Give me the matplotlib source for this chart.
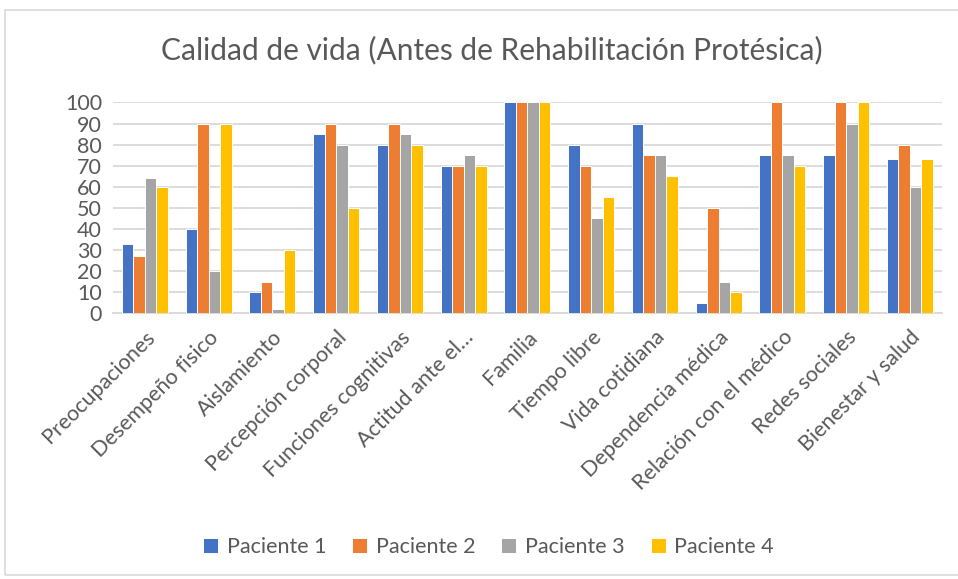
import numpy as np
import matplotlib.pyplot as plt
from matplotlib.patches import Rectangle

categorias = ["Preocupaciones", "Desempeño fisico", "Aislamiento", "Percepción corporal",
              "Funciones cognitivas", "Actitud ante el…", "Familia", "Tiempo libre",
              "Vida cotidiana", "Dependencia médica", "Relación con el médico",
              "Redes sociales", "Bienestar y salud"]
paciente1 = [33, 40, 10, 85, 80, 70, 100, 80, 90, 5, 75, 75, 73]
paciente2 = [27, 90, 15, 90, 90, 70, 100, 70, 75, 50, 100, 100, 80]
paciente3 = [64, 20, 2, 80, 85, 75, 100, 45, 75, 15, 75, 90, 60]
paciente4 = [60, 90, 30, 50, 80, 70, 100, 55, 65, 10, 70, 100, 73]
series = ["Paciente 1", "Paciente 2", "Paciente 3", "Paciente 4"]
colores = ["#4472C4", "#ED7D31", "#A5A5A5", "#FFC000"]

plt.rcParams['font.family'] = ['Lato', 'DejaVu Sans']
gris = "#595959"

fig = plt.figure(figsize=(9.58, 5.79), dpi=100)
ax = fig.add_axes([0.118, 0.459, 0.865, 0.364])

x = np.arange(len(categorias))
w = 0.18
for i, (vals, nom, col) in enumerate(zip([paciente1, paciente2, paciente3, paciente4], series, colores)):
    ax.bar(x + (i - 1.5) * w, vals, w, color=col, label=nom, edgecolor="white", linewidth=0.7, zorder=3)

ax.set_xlim(-0.5, len(categorias) - 0.5)
ax.set_ylim(0, 100)
ax.set_yticks(range(0, 101, 10))
ax.yaxis.grid(True, color="#D9D9D9", linewidth=1.3, zorder=0)
for s in ["top", "right", "left"]:
    ax.spines[s].set_visible(False)
ax.spines["bottom"].set_color("#D9D9D9")
ax.spines["bottom"].set_linewidth(1.3)
ax.tick_params(axis="y", length=0, labelsize=15.5, colors=gris, pad=8)
ax.tick_params(axis="x", length=0, labelsize=15.5, colors=gris, pad=10)
ax.set_xticks(x)
ax.set_xticklabels(categorias, rotation=45, ha="right", rotation_mode="anchor")

fig.text(0.513, 0.913, "Calidad de vida (Antes de Rehabilitación Protésica)",
         ha="center", va="center", fontsize=21.5, color=gris)

fig.legend(loc="center", bbox_to_anchor=(0.51, 0.055), ncol=4, frameon=False,
           fontsize=15.5, handlelength=0.7, handleheight=0.7, columnspacing=1.2,
           handletextpad=0.4, labelcolor=gris)

fig.patches.append(Rectangle((5 / 958, 4 / 579), 1.0, 1 - 14 / 579, transform=fig.transFigure,
                             fill=False, edgecolor="#D9D9D9", linewidth=1.2))

fig.savefig("out.png", dpi=100)
